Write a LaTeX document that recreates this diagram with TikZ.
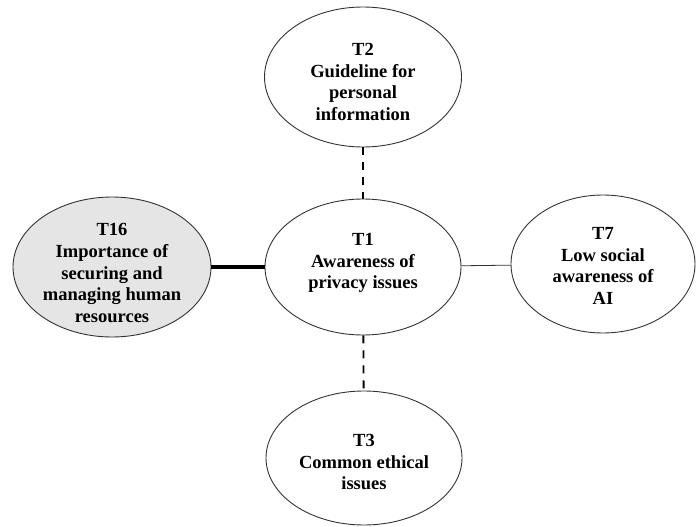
\documentclass[tikz,border=0pt]{standalone}
\usepackage{fontspec}
\setmainfont{Liberation Serif}
\usetikzlibrary{shapes.geometric}
\begin{document}
\begin{tikzpicture}[x=1pt,y=-1pt,
  topic/.style={ellipse, draw=black!80, line width=0.9pt, inner sep=0pt},
  topictext/.style={align=center, inner sep=0pt, font=\fontsize{18.5}{21.8}\selectfont\bfseries},
  dashlink/.style={line width=1.8pt, dash pattern=on 8pt off 7pt},
  thicklink/.style={line width=3.5pt},
  thinlink/.style={line width=0.8pt, draw=black!80}]
\useasboundingbox (0,0) rectangle (697,527);
\node[topic, minimum width=197pt, minimum height=140pt,
  label={[topictext, yshift=-5pt]center:T2\\Guideline for\\personal\\information}] (T2) at (363,77) {};
\node[topic, minimum width=196pt, minimum height=136pt,
  label={[topictext, yshift=4pt]center:T1\\Awareness of\\privacy issues}] (T1) at (363,267) {};
\node[topic, fill=black!10, minimum width=198pt, minimum height=140pt,
  label={[topictext, yshift=-6pt]center:T16\\Importance of\\securing and\\managing human\\resources}] (T16) at (112,267) {};
\node[topic, minimum width=184pt, minimum height=138pt,
  label={[topictext, yshift=-2pt]center:T7\\Low social\\awareness of\\AI}] (T7) at (603,264) {};
\node[topic, minimum width=196pt, minimum height=134pt,
  label={[topictext, yshift=-4pt]center:T3\\Common ethical\\issues}] (T3) at (364,458) {};
\draw[dashlink] (T2) -- (T1);
\draw[dashlink] (T1) -- (T3);
\draw[thicklink] (T16.east) -- (T1.west);
\draw[thinlink] (T1) -- (T7);
\end{tikzpicture}
\end{document}
